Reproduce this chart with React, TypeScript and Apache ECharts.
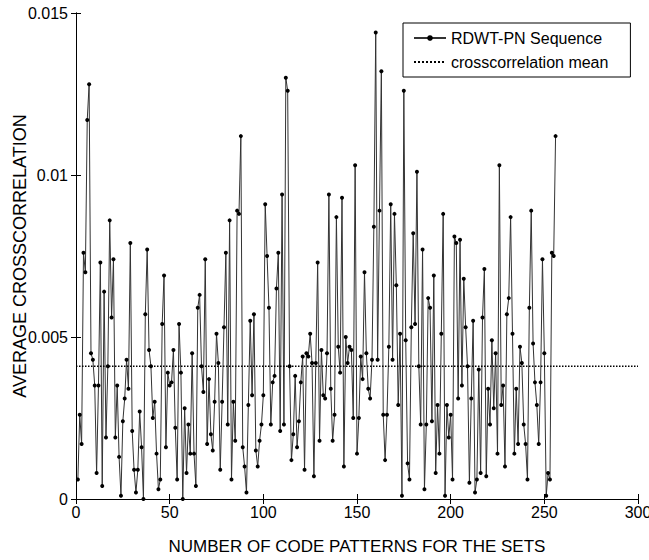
import React, { useEffect, useRef } from "react";
import * as echarts from "echarts";

const seriesName = "RDWT-PN Sequence";
const meanName = "crosscorrelation mean";
const meanValue = 0.0041;
const xTicks = [0, 50, 100, 150, 200, 250, 300];
const yTickLabels = ["0", "0.005", "0.01", "0.015"];

const values = [
  0.0006, 0.0026, 0.0017, 0.0076, 0.0070, 0.0117, 0.0128, 0.0045, 0.0043, 0.0035,
  0.0008, 0.0035, 0.0073, 0.0004, 0.0064, 0.0019, 0.0041,
  0.0086, 0.0056, 0.0074, 0.0019, 0.0035, 0.0013, 0.0001, 0.0024, 0.0031, 0.0043, 0.0034, 0.0079,
  0.0021, 0.0009, 0.0002, 0.0009, 0.0027, 0.0016, 0.0000, 0.0057, 0.0077, 0.0046, 0.0041, 0.0025,
  0.0030, 0.0014, 0.0003, 0.0006, 0.0054, 0.0069, 0.0016, 0.0039, 0.0035, 0.0036, 0.0046, 0.0022,
  0.0006, 0.0054, 0.0039, 0.0000, 0.0028, 0.0008, 0.0023, 0.0014, 0.0045, 0.0014, 0.0004, 0.0059,
  0.0063, 0.0041, 0.0033, 0.0074, 0.0017, 0.0037, 0.0020, 0.0015, 0.0030, 0.0051, 0.0042, 0.0009,
  0.0030, 0.0053, 0.0076, 0.0023, 0.0086, 0.0006, 0.0030, 0.0018, 0.0089, 0.0088, 0.0112, 0.0016,
  0.0010, 0.0002, 0.0029, 0.0055, 0.0032, 0.0057, 0.0015, 0.0010, 0.0018, 0.0023, 0.0032, 0.0091,
  0.0075, 0.0059, 0.0023, 0.0036,
  0.0038, 0.0065, 0.0076, 0.0021, 0.0094, 0.0023, 0.0130, 0.0126, 0.0041, 0.0012, 0.0020, 0.0038,
  0.0016, 0.0024, 0.0036, 0.0044, 0.0009, 0.0045, 0.0044, 0.0051, 0.0042, 0.0007, 0.0042, 0.0073,
  0.0018, 0.0046, 0.0032, 0.0031, 0.0045, 0.0094, 0.0034, 0.0018, 0.0026, 0.0087, 0.0047, 0.0039,
  0.0093, 0.0010, 0.0050, 0.0042, 0.0047, 0.0046, 0.0025, 0.0103, 0.0014, 0.0025, 0.0044, 0.0037,
  0.0070, 0.0045, 0.0034, 0.0031,
  0.0043, 0.0084, 0.0144, 0.0043, 0.0089, 0.0132, 0.0026,
  0.0012, 0.0026, 0.0047, 0.0091, 0.0043, 0.0088, 0.0066, 0.0029, 0.0051, 0.0001, 0.0126, 0.0049,
  0.0011, 0.0006, 0.0053, 0.0082, 0.0054, 0.0101, 0.0041, 0.0023, 0.0077, 0.0003, 0.0023, 0.0062,
  0.0059, 0.0024, 0.0069, 0.0008, 0.0029, 0.0014, 0.0051, 0.0088, 0.0001, 0.0029, 0.0019, 0.0026,
  0.0006, 0.0081, 0.0079, 0.0031, 0.0080, 0.0035, 0.0068, 0.0053, 0.0041, 0.0005, 0.0031, 0.0055,
  0.0002, 0.0006, 0.0040, 0.0008, 0.0056, 0.0071, 0.0007, 0.0034, 0.0023, 0.0049, 0.0028, 0.0045,
  0.0014, 0.0103,
  0.0029, 0.0035, 0.0010, 0.0057, 0.0062, 0.0087, 0.0051, 0.0014, 0.0034, 0.0017, 0.0047, 0.0042,
  0.0023, 0.0017, 0.0006, 0.0059, 0.0089, 0.0048, 0.0036, 0.0029, 0.0017, 0.0036, 0.0074, 0.0045,
  0.0001, 0.0008, 0.0006, 0.0076, 0.0075, 0.0112,
];

const FONT = "'Liberation Sans', Arial, sans-serif";

export default function App() {
  const ref = useRef<HTMLDivElement>(null);
  useEffect(() => {
    if (!ref.current) return;
    const chart = echarts.init(ref.current, undefined, { renderer: "svg" });
    const axisLine = { show: true, lineStyle: { color: "#000", width: 1 } };
    const axisTick = { show: true, inside: true, length: 5, lineStyle: { color: "#000" } };
    chart.setOption({
      animation: false,
      backgroundColor: "#fff",
      textStyle: { fontFamily: FONT },
      grid: {
        left: 76,
        right: 11,
        top: 13,
        bottom: 61,
        containLabel: false,
        outerBoundsMode: "none",
      },
      legend: {
        orient: "vertical",
        left: 403,
        top: 23,
        padding: [7, 22, 7, 10],
        itemGap: 8,
        itemWidth: 32,
        itemHeight: 7,
        borderColor: "#000",
        borderWidth: 1,
        backgroundColor: "#fff",
        textStyle: { fontFamily: FONT, fontSize: 16, color: "#000" },
        data: [
          { name: seriesName },
          { name: meanName, itemStyle: { opacity: 0 } },
        ],
      },
      xAxis: [
        {
          type: "value",
          min: xTicks[0],
          max: xTicks[xTicks.length - 1],
          interval: 50,
          position: "bottom",
          axisLine,
          axisTick,
          splitLine: { show: false },
          axisLabel: { color: "#000", fontSize: 16, fontFamily: FONT, margin: 5 },
          name: "NUMBER OF CODE PATTERNS FOR THE SETS",
          nameLocation: "middle",
          nameGap: 39,
          nameMoveOverlap: false,
          nameTextStyle: { color: "#000", fontSize: 17, fontFamily: FONT },
        },
        {
          type: "value",
          min: 0,
          max: 300,
          interval: 50,
          position: "top",
          axisLine,
          axisTick,
          splitLine: { show: false },
          axisLabel: { show: false },
        },
      ],
      yAxis: [
        {
          type: "value",
          min: 0,
          max: 0.015,
          interval: 0.005,
          position: "left",
          axisLine,
          axisTick,
          splitLine: { show: false },
          axisLabel: {
            color: "#000",
            fontSize: 16,
            fontFamily: FONT,
            margin: 8,
            formatter: (v: number) => yTickLabels[Math.round(v / 0.005)] ?? "",
          },
          name: "AVERAGE CROSSCORRELATION",
          nameLocation: "middle",
          nameGap: 47,
          nameMoveOverlap: false,
          nameTextStyle: { color: "#000", fontSize: 18, fontFamily: FONT },
        },
        {
          type: "value",
          min: 0,
          max: 0.015,
          interval: 0.005,
          position: "right",
          axisLine,
          axisTick,
          splitLine: { show: false },
          axisLabel: { show: false },
        },
      ],
      series: [
        {
          name: seriesName,
          type: "line",
          xAxisIndex: 0,
          yAxisIndex: 0,
          data: values.map((v, i) => [i + 1, v]),
          symbol: "circle",
          symbolSize: 4,
          showSymbol: true,
          lineStyle: { color: "#333", width: 1 },
          itemStyle: { color: "#000" },
          z: 3,
        },
        {
          name: meanName,
          type: "line",
          xAxisIndex: 0,
          yAxisIndex: 0,
          data: [
            [xTicks[0], meanValue],
            [xTicks[xTicks.length - 1], meanValue],
          ],
          symbol: "none",
          lineStyle: { color: "#000", width: 1.5, type: "dotted" },
          itemStyle: { color: "#000" },
          z: 4,
        },
      ],
    });
    return () => chart.dispose();
  }, []);
  return (
    <div
      ref={ref}
      style={{ position: "fixed", left: 0, top: 0, width: 649, height: 560, background: "#fff" }}
    />
  );
}
